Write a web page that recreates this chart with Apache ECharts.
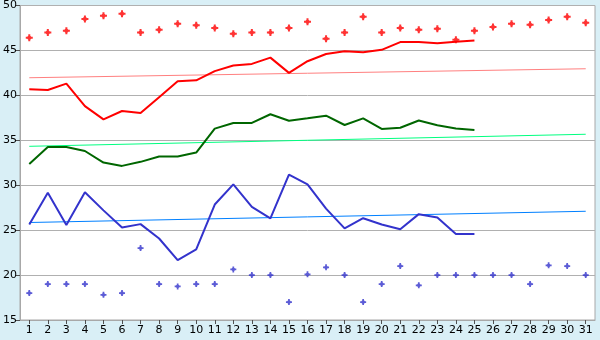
<!DOCTYPE html>
<html><head><meta charset="utf-8">
<script src="https://cdn.jsdelivr.net/npm/echarts@6/dist/echarts.min.js"></script>
<style>html,body{margin:0;padding:0;background:#d9eff6;}#c{width:600px;height:340px;}</style>
</head><body><div id="c"></div>
<script>
var days = ['1','2','3','4','5','6','7','8','9','10','11','12','13','14','15','16','17','18','19','20','21','22','23','24','25','26','27','28','29','30','31'];
var redPoints = [46.4,47.0,47.2,48.5,48.85,49.07,47.0,47.3,47.96,47.8,47.5,46.85,47.0,47.0,47.5,48.2,46.3,47.0,48.74,47.0,47.5,47.3,47.4,46.2,47.2,47.6,47.96,47.85,48.4,48.74,48.07];
var redLine = [40.67,40.6,41.3,38.8,37.33,38.26,38.03,39.8,41.56,41.67,42.7,43.33,43.5,44.2,42.5,43.8,44.6,44.9,44.8,45.07,45.93,45.93,45.8,45.96,46.1];
var greenLine = [32.37,34.26,34.26,33.81,32.52,32.15,32.6,33.2,33.2,33.63,36.3,36.93,36.93,37.9,37.18,37.44,37.74,36.7,37.44,36.26,36.4,37.2,36.67,36.3,36.15];
var blueLine = [25.63,29.15,25.56,29.22,27.2,25.3,25.67,24.07,21.67,22.85,27.85,30.1,27.6,26.3,31.18,30.1,27.4,25.2,26.33,25.63,25.1,26.78,26.4,24.56,24.56];
var bluePoints = [18,19,19,19,17.8,18,23,19,18.74,19,19,20.63,20,20,17,20.08,20.86,20,17,19,21,18.86,20,20,20,20,20,19,21.08,21,20];
var redTrend = [41.96, 42.96];
var greenTrend = [34.33, 35.67];
var blueTrend = [25.85, 27.1];
var yTicks = [15,20,25,30,35,40,45,50];

var crossPath = 'path://M2.5,0L4.5,0L4.5,1.5L5.5,2.5L7,2.5L7,4.5L5.5,4.5L4.5,5.5L4.5,7L2.5,7L2.5,5.5L1.5,4.5L0,4.5L0,2.5L1.5,2.5L2.5,1.5Z';
function trend(v){ return [[days[0], v[0]], [days[days.length-1], v[1]]]; }

var chart = echarts.init(document.getElementById('c'));
chart.setOption({
  animation: false,
  backgroundColor: '#d9eff6',
  grid: {left: 20, right: 5, top: 5, bottom: 20, show: true, backgroundColor: '#ffffff', borderColor: '#a8a8a8', borderWidth: 1},
  xAxis: {
    type: 'category', data: days, boundaryGap: true,
    axisLine: {show: true, lineStyle: {color: '#a8a8a8'}},
    axisTick: {show: true, alignWithLabel: true, length: 4, lineStyle: {color: '#505050'}},
    axisLabel: {color: '#000', fontFamily: 'DejaVu Sans', fontSize: 11, margin: 5, interval: 0},
    splitLine: {show: false}
  },
  yAxis: {
    type: 'value', min: yTicks[0], max: yTicks[yTicks.length-1], interval: 5,
    axisLine: {show: true, lineStyle: {color: '#a8a8a8'}},
    axisTick: {show: true, length: 4, lineStyle: {color: '#505050'}},
    axisLabel: {color: '#000', fontFamily: 'DejaVu Sans', fontSize: 11, margin: 3},
    splitLine: {show: true, lineStyle: {color: '#b0b0b0', width: 1}}
  },
  series: [
    {type: 'line', data: trend(redTrend), symbol: 'none', lineStyle: {color: '#ff8080', width: 1}, z: 2},
    {type: 'line', data: trend(greenTrend), symbol: 'none', lineStyle: {color: '#00ff80', width: 1}, z: 2},
    {type: 'line', data: trend(blueTrend), symbol: 'none', lineStyle: {color: '#0080ff', width: 1}, z: 2},
    {type: 'line', data: redLine, symbol: 'none', lineStyle: {color: '#ff0000', width: 2}, z: 3},
    {type: 'line', data: greenLine, symbol: 'none', lineStyle: {color: '#006600', width: 2}, z: 3},
    {type: 'line', data: blueLine, symbol: 'none', lineStyle: {color: '#3333cc', width: 2}, z: 3},
    {type: 'scatter', data: redPoints, symbol: crossPath, symbolSize: 7, itemStyle: {color: '#ff0000'}, z: 4},
    {type: 'scatter', data: bluePoints, symbol: crossPath, symbolSize: 6, itemStyle: {color: '#3333cc'}, z: 4}
  ]
});
</script></body></html>
